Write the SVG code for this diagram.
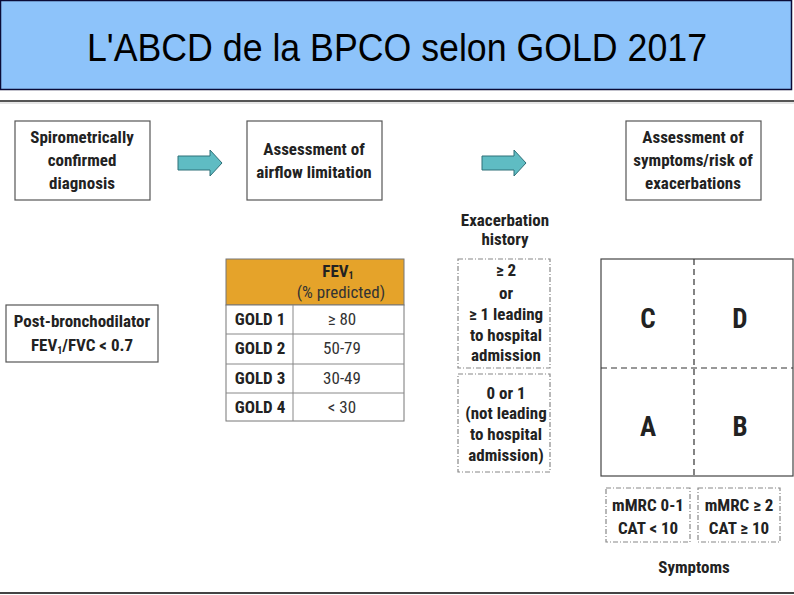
<svg xmlns="http://www.w3.org/2000/svg" width="794" height="595" viewBox="0 0 794 595">
<defs>
<style>
.t{font-family:"Liberation Sans Narrow","Roboto Condensed","DejaVu Sans Condensed","Liberation Sans",sans-serif;font-weight:bold;fill:#222;text-anchor:middle;font-size:17px}
.r{font-weight:normal;fill:#333}
.box{fill:#fff;stroke:#555;stroke-width:1.2}
.dd{fill:none;stroke:#888;stroke-width:1.2;stroke-dasharray:5 2 1 2}
.arr{fill:#5FBCC3;stroke:#2F7078;stroke-width:1}
.grid{fill:none;stroke:#333;stroke-width:1.2;stroke-dasharray:6 4}
.tl{stroke:#888;stroke-width:1;fill:none}
.big{font-size:27px}
</style>
</defs>
<rect width="794" height="595" fill="#fff"/>
<g id="title">
<rect x="0.5" y="0.5" width="791" height="89" fill="#8DC3FA" stroke="#0B0B36" stroke-width="1.5"/>
<text x="397" y="61" font-family="Liberation Sans, sans-serif" font-size="38" text-anchor="middle" fill="#000" textLength="620" lengthAdjust="spacingAndGlyphs">L'ABCD de la BPCO selon GOLD 2017</text>
</g>
<g id="rules">
<line x1="0" y1="101" x2="794" y2="101" stroke="#555" stroke-width="2"/>
<line x1="0" y1="103" x2="794" y2="103" stroke="#ccc" stroke-width="1"/>
<line x1="0" y1="593" x2="794" y2="593" stroke="#444" stroke-width="2"/>
</g>
<g id="connectors">
<polygon class="arr" points="178,156 210,156 210,150 222,163 210,176 210,170 178,170"/>
<polygon class="arr" points="482,156 514,156 514,150 526,163 514,176 514,170 482,170"/>
</g>
<g id="diagnosis">
<rect class="box" x="15" y="121" width="135" height="79"/>
<text class="t" x="82" y="143">Spirometrically</text>
<text class="t" x="82" y="166">confirmed</text>
<text class="t" x="82" y="189">diagnosis</text>
</g>
<g id="airflow">
<rect class="box" x="247" y="121" width="135" height="79"/>
<text class="t" x="314" y="155">Assessment of</text>
<text class="t" x="314" y="178">airflow limitation</text>
</g>
<g id="symptoms-risk">
<rect class="box" x="626" y="121" width="135" height="79"/>
<text class="t" x="693" y="143">Assessment of</text>
<text class="t" x="693" y="166">symptoms/risk of</text>
<text class="t" x="693" y="189">exacerbations</text>
</g>
<g id="post-bd">
<rect class="box" x="6" y="305" width="152" height="57"/>
<text class="t" x="82" y="327">Post-bronchodilator</text>
<text class="t" x="82" y="351">FEV<tspan font-size="10" dy="3">1</tspan><tspan dy="-3">/FVC &lt; 0.7</tspan></text>
</g>
<g id="fev-table">
<rect x="226" y="259" width="178" height="46" fill="#E5A32A" stroke="#777"/>
<rect x="226" y="305" width="178" height="116" fill="#fff" stroke="#777"/>
<line class="tl" x1="226" y1="334" x2="404" y2="334"/>
<line class="tl" x1="226" y1="364" x2="404" y2="364"/>
<line class="tl" x1="226" y1="393" x2="404" y2="393"/>
<line class="tl" x1="293" y1="305" x2="293" y2="421"/>
<text class="t" x="338" y="277">FEV<tspan font-size="10" dy="2">1</tspan></text>
<text class="t r" x="341" y="298">(% predicted)</text>
<text class="t" x="260" y="325">GOLD 1</text>
<text class="t" x="260" y="354">GOLD 2</text>
<text class="t" x="260" y="384">GOLD 3</text>
<text class="t" x="260" y="413">GOLD 4</text>
<text class="t r" x="342" y="325">≥ 80</text>
<text class="t r" x="342" y="354">50-79</text>
<text class="t r" x="342" y="384">30-49</text>
<text class="t r" x="342" y="413">&lt; 30</text>
</g>
<g id="exacerbation-history">
<text class="t" x="505" y="226">Exacerbation</text>
<text class="t" x="505" y="245">history</text>
</g>
<g id="exac-high">
<rect class="dd" x="458" y="259" width="92" height="109"/>
<text class="t" x="506" y="276">≥ 2</text>
<text class="t" x="506" y="299">or</text>
<text class="t" x="506" y="320">≥ 1 leading</text>
<text class="t" x="506" y="341">to hospital</text>
<text class="t" x="506" y="361">admission</text>
</g>
<g id="exac-low">
<rect class="dd" x="458" y="374" width="92" height="98"/>
<text class="t" x="506" y="399">0 or 1</text>
<text class="t" x="506" y="419">(not leading</text>
<text class="t" x="506" y="440">to hospital</text>
<text class="t" x="506" y="461">admission)</text>
</g>
<g id="abcd-grid">
<rect x="601" y="259" width="192" height="217" fill="#fff" stroke="#444" stroke-width="1.2"/>
<line class="grid" x1="694" y1="259" x2="694" y2="476"/>
<line class="grid" x1="601" y1="368" x2="793" y2="368"/>
<text class="t big" x="648" y="328">C</text>
<text class="t big" x="740" y="328">D</text>
<text class="t big" x="648" y="436">A</text>
<text class="t big" x="740" y="436">B</text>
</g>
<g id="mmrc-low">
<rect class="dd" x="606" y="488" width="84" height="54"/>
<text class="t" x="648" y="511">mMRC 0-1</text>
<text class="t" x="648" y="534">CAT &lt; 10</text>
</g>
<g id="mmrc-high">
<rect class="dd" x="698" y="488" width="82" height="54"/>
<text class="t" x="739" y="511">mMRC ≥ 2</text>
<text class="t" x="739" y="534">CAT ≥ 10</text>
</g>
<g id="symptoms-label">
<text class="t" x="694" y="573">Symptoms</text>
</g>
</svg>
